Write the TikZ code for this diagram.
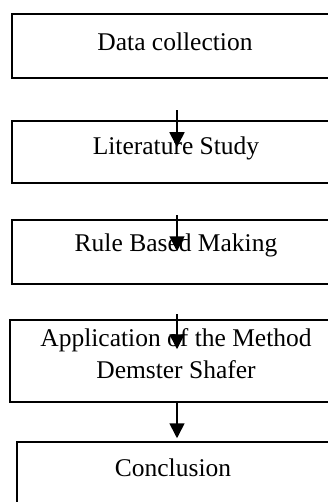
\documentclass[tikz,border=0pt]{standalone}
\usepackage{fontspec}
\setmainfont{Liberation Serif}
\usetikzlibrary{arrows.meta,calc}
\begin{document}
\begin{tikzpicture}[x=1pt,y=-1pt,
  box/.style={draw,line width=1.5pt,minimum width=330pt,inner sep=0pt},
  lbl/.style={font=\fontsize{25.5}{32}\selectfont,align=center,inner sep=0pt},
  arr/.style={line width=1.6pt,-{Triangle[length=15pt,width=15pt]}}]
\useasboundingbox (0,0) rectangle (328,502);
\clip (0,0) rectangle (328,502);
\node[box,minimum height=64pt] (b1) at (177,46) {};
\node[box,minimum height=62pt] (b2) at (177,152) {};
\node[box,minimum height=64pt] (b3) at (177,252) {};
\node[box,minimum height=82pt,minimum width=334pt] (b4) at (177,361) {};
\node[box,minimum height=66pt,minimum width=320pt] (b5) at (177,475) {};
\node[lbl] (t1) at (175,42) {Data collection};
\node[lbl] (t2) at (176,148) {Literature Study};
\node[lbl] (t3) at (176,245) {Rule Based Making};
\node[lbl] (t4) at (176,354) {Application of the Method\\Demster Shafer};
\node[lbl] (t5) at (173,468) {Conclusion};
\coordinate (s1) at ($(b2.north)+(0,-10)$);
\coordinate (e1) at ($(b2.north)+(0,27)$);
\coordinate (s2) at ($(b3.north)+(0,-4)$);
\coordinate (e2) at ($(b3.north)+(0,32)$);
\coordinate (s3) at ($(b4.north)+(0,-5)$);
\coordinate (e3) at ($(b4.north)+(0,30)$);
\draw[arr] (s1) -- (e1);
\draw[arr] (s2) -- (e2);
\draw[arr] (s3) -- (e3);
\draw[arr] (b4.south) -- ($(b5.north)+(0,-3)$);
\end{tikzpicture}
\end{document}
